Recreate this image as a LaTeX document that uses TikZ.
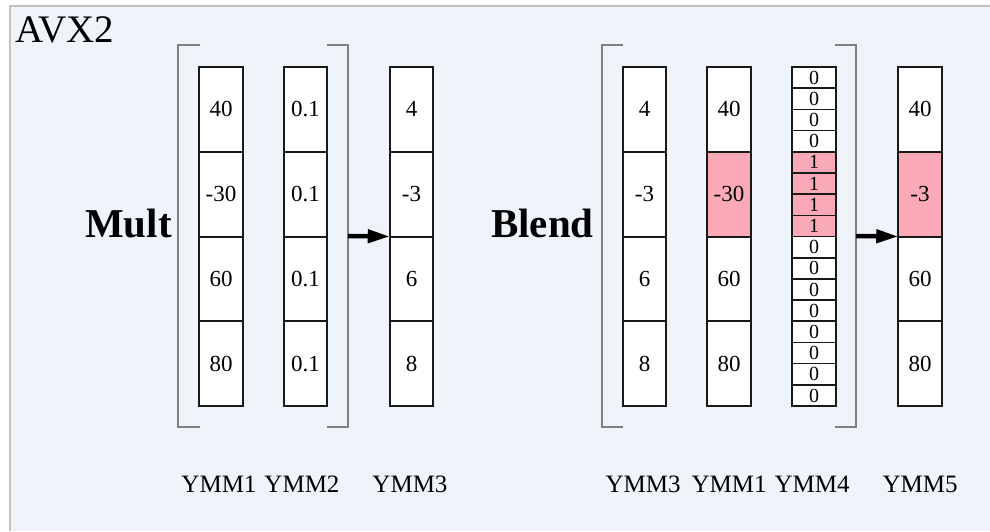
\documentclass[tikz,border=0pt]{standalone}
\usepackage{fontspec}
\setmainfont{Liberation Serif}
\usetikzlibrary{arrows.meta}
\definecolor{bgblue}{RGB}{239,244,251}
\definecolor{frameg}{RGB}{192,192,192}
\definecolor{pinkc}{RGB}{250,170,182}
\definecolor{brk}{RGB}{128,128,128}
\begin{document}
\begin{tikzpicture}[x=1pt,y=-1pt,
  cell/.style={draw=black!90, line width=2pt, minimum width=43.5pt, minimum height=84.75pt,
    inner sep=0pt, outer sep=0pt, font=\fontsize{23}{23}\selectfont},
  bitcell/.style={draw=black!90, line width=1.6pt, minimum width=43.5pt, minimum height=21.19pt,
    inner sep=0pt, outer sep=0pt, font=\fontsize{20}{20}\selectfont},
  bracket/.style={draw=brk, line width=1.2pt},
  bigarrow/.style={draw=black, line width=4.5pt, -{Triangle[length=22pt,width=13pt]}},
  oplabel/.style={font=\fontsize{41}{41}\selectfont\bfseries, inner sep=0pt, anchor=base},
  reglabel/.style={font=\fontsize{25}{25}\selectfont, inner sep=0pt, anchor=base}]
\useasboundingbox (0,0) rectangle (990,531);
\fill[white] (0,0) rectangle (990,531);
\fill[bgblue] (9,5) rectangle (990,531);
\draw[frameg, line width=2pt] (10,531) -- (10,6) -- (990,6);
\node[font=\fontsize{39}{39}\selectfont, inner sep=0pt, anchor=base west] (title) at (15,42) {AVX2};

% ---- Mult ----
\node[oplabel] (mult) at (128.5,237) {Mult};
\draw[bracket] (200,45) -- (178,45) -- (178,427) -- (200,427);
\draw[bracket] (327,45) -- (348,45) -- (348,427) -- (327,427);
\coordinate (mbr) at (348,236);
\foreach \v [count=\i] in {40,-30,60,80}
  \node[cell, fill=white] (ma\i) at (221,{67+84.75*(\i-0.5)}) {\v};
\foreach \v [count=\i] in {0.1,0.1,0.1,0.1}
  \node[cell, fill=white] (mb\i) at (305.5,{67+84.75*(\i-0.5)}) {\v};
\foreach \v [count=\i] in {4,-3,6,8}
  \node[cell, fill=white] (mc\i) at (411.5,{67+84.75*(\i-0.5)}) {\v};
\draw[bigarrow] (mbr) -- (mc2.south west);
\node[reglabel] (lma) at (219,492) {YMM1};
\node[reglabel] (lmb) at (302,492) {YMM2};
\node[reglabel] (lmc) at (410,492) {YMM3};

% ---- Blend ----
\node[oplabel] (blend) at (542.5,237) {Blend};
\draw[bracket] (623,45) -- (602,45) -- (602,427) -- (623,427);
\draw[bracket] (835,45) -- (856,45) -- (856,427) -- (835,427);
\coordinate (bbr) at (856,236);
\foreach \v [count=\i] in {4,-3,6,8}
  \node[cell, fill=white] (ba\i) at (644.5,{67+84.75*(\i-0.5)}) {\v};
\foreach \v/\f [count=\i] in {40/white,-30/pinkc,60/white,80/white}
  \node[cell, fill=\f] (bb\i) at (729,{67+84.75*(\i-0.5)}) {\v};
\foreach \v/\f [count=\i] in {0/white,0/white,0/white,0/white,1/pinkc,1/pinkc,1/pinkc,1/pinkc,
    0/white,0/white,0/white,0/white,0/white,0/white,0/white,0/white}
  \node[bitcell, fill=\f] (bm\i) at (814,{67+21.19*(\i-0.5)}) {\v};
\foreach \v/\f [count=\i] in {40/white,-3/pinkc,60/white,80/white}
  \node[cell, fill=\f] (bc\i) at (920,{67+84.75*(\i-0.5)}) {\v};
\draw[bigarrow] (bbr) -- (bc2.south west);
\node[reglabel] (lba) at (643,492) {YMM3};
\node[reglabel] (lbb) at (729,492) {YMM1};
\node[reglabel] (lbm) at (812,492) {YMM4};
\node[reglabel] (lbc) at (920,492) {YMM5};
\end{tikzpicture}
\end{document}
